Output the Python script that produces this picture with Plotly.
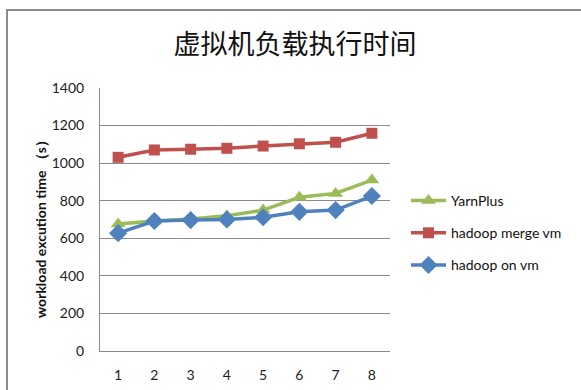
import plotly.graph_objects as go

categories = ["1", "2", "3", "4", "5", "6", "7", "8"]
yarnplus = [676, 692, 703, 720, 750, 818, 839, 910]
hadoop_merge_vm = [1031, 1070, 1074, 1079, 1091, 1103, 1111, 1159]
hadoop_on_vm = [627, 692, 697, 700, 712, 741, 750, 825]
y_ticks = [0, 200, 400, 600, 800, 1000, 1200, 1400]

W, H = 581, 390
L, R, T, B = 100, 390, 88, 351

fig = go.Figure()
fig.add_trace(go.Scatter(x=categories, y=yarnplus, name="YarnPlus", mode="lines+markers",
                         legendgroup="a",
                         line=dict(color="#9BBB59", width=3.5),
                         marker=dict(symbol="triangle-up", size=13, color="#9BBB59")))
fig.add_trace(go.Scatter(x=categories, y=hadoop_merge_vm, name="hadoop merge vm", mode="lines+markers",
                         legendgroup="b",
                         line=dict(color="#C0504D", width=3.5),
                         marker=dict(symbol="square", size=11, color="#C0504D")))
fig.add_trace(go.Scatter(x=categories, y=hadoop_on_vm, name="hadoop on vm", mode="lines+markers",
                         legendgroup="c",
                         line=dict(color="#4F81BD", width=3.5),
                         marker=dict(symbol="diamond", size=14, color="#4F81BD")))

pw, ph = R - L, B - T
def px(x):
    return (x - L) / pw
def py(y):
    return (B - y) / ph

fig.update_layout(
    width=W, height=H,
    margin=dict(l=L, r=W - R, t=T, b=H - B, autoexpand=False),
    paper_bgcolor="white", plot_bgcolor="white",
    font=dict(family="Lato", size=14, color="#222"),
    showlegend=True,
    legend=dict(xref="container", yref="container", x=406 / W, y=1 - 185 / H,
                xanchor="left", yanchor="top",
                font=dict(size=14, color="#111"), tracegroupgap=11,
                bgcolor="rgba(0,0,0,0)", itemwidth=35),
    title=dict(text="虚拟机负载执行时间", x=295 / W, xanchor="center", y=1 - 45 / H, yanchor="middle",
               font=dict(family="Noto Sans CJK SC", size=27, color="#111")),
    xaxis=dict(type="category", range=[-0.5, 7.5], showgrid=False, showline=True,
               linecolor="#8a8a8a", linewidth=1, ticks="", ticklabelstandoff=11,
               tickfont=dict(size=14, color="#222"), zeroline=False),
    yaxis=dict(range=[0, 1400], tickvals=y_ticks, showgrid=True, gridcolor="#8a8a8a",
               gridwidth=1, showline=True, linecolor="#8a8a8a", linewidth=1, ticks="",
               ticklabelstandoff=12, tickfont=dict(size=14, color="#222"), zeroline=False),
    shapes=[dict(type="rect", xref="paper", yref="paper",
                 x0=px(7), x1=px(590), y0=py(400), y1=py(10),
                 line=dict(color="#8c8c8c", width=2), fillcolor="rgba(0,0,0,0)", layer="below")],
    annotations=[dict(text="<b>workload excution time （s）</b>", xref="paper", yref="paper",
                      x=px(40), y=py(226), xanchor="center", yanchor="middle",
                      textangle=-90, showarrow=False,
                      font=dict(size=14, color="#111", family="Lato"))],
)

fig.write_html("out.html")
